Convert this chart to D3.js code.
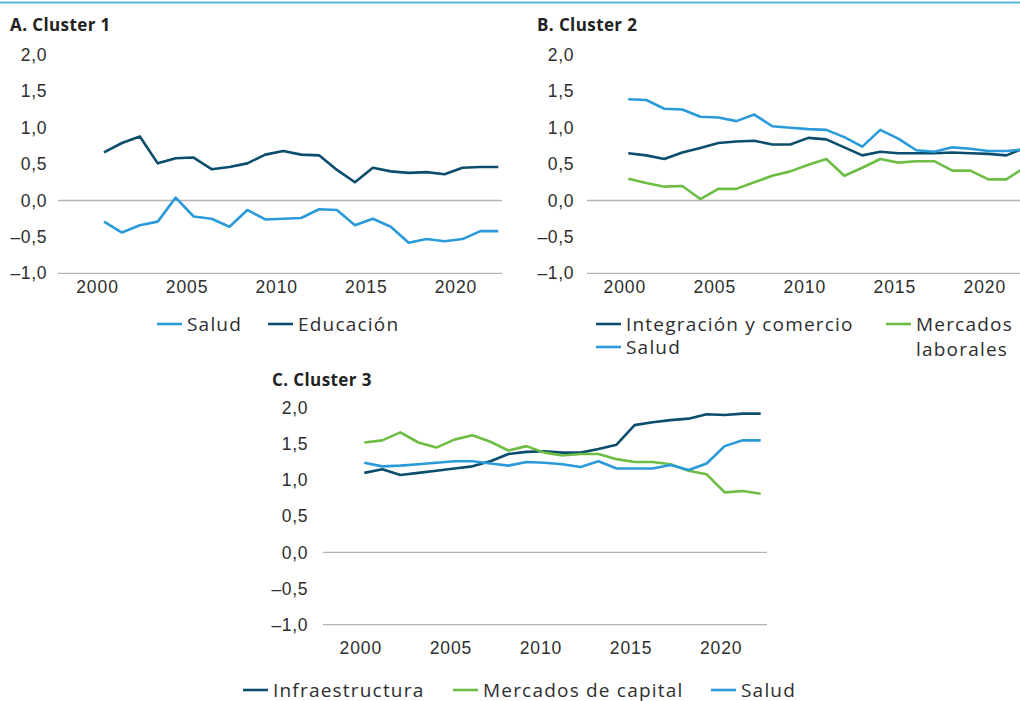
<!DOCTYPE html>
<html>
<head>
<meta charset="utf-8">
<script src="https://cdn.jsdelivr.net/npm/d3@7"></script>
<style>
  body { margin: 0; background: #fff; }
  svg { display: block; font-family: "Open Sans", sans-serif; }
  .tick text { fill: #2e2e2e; }
</style>
</head>
<body>
<svg id="chart" width="1020" height="701"></svg>
<script>
// data
const years = [2000, 2001, 2002, 2003, 2004, 2005, 2006, 2007, 2008, 2009, 2010,
  2011, 2012, 2013, 2014, 2015, 2016, 2017, 2018, 2019, 2020, 2021, 2022];
const yTicks = [-1, -0.5, 0, 0.5, 1, 1.5, 2];
const xTicks = [2000, 2005, 2010, 2015, 2020];

// Cluster 1
const saludA = [-0.29, -0.44, -0.34, -0.29, 0.04, -0.22, -0.25, -0.36, -0.13, -0.26, -0.25,
  -0.24, -0.12, -0.13, -0.34, -0.25, -0.36, -0.58, -0.53, -0.56, -0.53, -0.42, -0.42];
const educacionA = [0.66, 0.79, 0.88, 0.51, 0.58, 0.59, 0.43, 0.46, 0.51, 0.63, 0.68,
  0.63, 0.62, 0.42, 0.25, 0.45, 0.40, 0.38, 0.39, 0.36, 0.45, 0.46, 0.46];

// Cluster 2
const integracionB = [0.65, 0.62, 0.57, 0.66, 0.72, 0.79, 0.81, 0.82, 0.77, 0.77, 0.86,
  0.84, 0.73, 0.62, 0.67, 0.65, 0.65, 0.65, 0.66, 0.65, 0.64, 0.62, 0.72];
const saludB = [1.39, 1.38, 1.26, 1.25, 1.15, 1.14, 1.09, 1.18, 1.02, 1.00, 0.98,
  0.97, 0.87, 0.74, 0.97, 0.85, 0.69, 0.67, 0.73, 0.71, 0.68, 0.68, 0.70];
const laboralesB = [0.30, 0.24, 0.19, 0.20, 0.02, 0.16, 0.16, 0.25, 0.34, 0.40, 0.49,
  0.57, 0.34, 0.45, 0.57, 0.52, 0.54, 0.54, 0.41, 0.41, 0.29, 0.29, 0.45];

// Cluster 3
const infraC = [1.10, 1.15, 1.07, 1.10, 1.13, 1.16, 1.19, 1.26, 1.36, 1.39, 1.40,
  1.38, 1.38, 1.43, 1.49, 1.76, 1.80, 1.83, 1.85, 1.91, 1.90, 1.92, 1.92];
const capitalC = [1.52, 1.55, 1.66, 1.52, 1.45, 1.56, 1.62, 1.53, 1.41, 1.47, 1.38,
  1.34, 1.36, 1.36, 1.29, 1.25, 1.25, 1.22, 1.13, 1.08, 0.83, 0.85, 0.81];
const saludC = [1.24, 1.19, 1.20, 1.22, 1.24, 1.26, 1.26, 1.23, 1.20, 1.25, 1.24,
  1.22, 1.18, 1.26, 1.16, 1.16, 1.16, 1.21, 1.14, 1.23, 1.47, 1.55, 1.55];

const DARK = "#0b4d6d", LIGHT = "#2b9ad8", GREEN = "#6dbd45";

const locale = d3.formatLocale({decimal: ",", thousands: ".", grouping: [3], currency: ["", ""], minus: "\u2013"});
const fmt = locale.format(".1f");

const svg = d3.select("#chart");

// thin rule on top
svg.append("rect").attr("x", 0).attr("y", 1.5).attr("width", 1020).attr("height", 2).attr("fill", "#5bb4e4");

function drawPanel(cfg) {
  const g = svg.append("g");

  const x = d3.scaleLinear().domain([2000, 2022]).range([cfg.x2000, cfg.x2022]);
  const y = d3.scaleLinear().domain([-1, 2]).range([cfg.yMin, cfg.yMax]);

  g.append("text")
    .attr("x", cfg.titleX).attr("y", cfg.titleY)
    .attr("font-size", 17).attr("font-weight", 700).attr("fill", "#222")
    .attr("letter-spacing", 0.4)
    .text(cfg.title);

  // zero line and bottom line
  [0, -1].forEach(v => {
    g.append("line")
      .attr("x1", cfg.axisStart).attr("x2", cfg.axisEnd)
      .attr("y1", y(v)).attr("y2", y(v))
      .attr("stroke", "#b3b3b3").attr("stroke-width", 1.3);
  });

  const yAxis = d3.axisLeft(y).tickValues(yTicks).tickSize(0).tickFormat(fmt);
  const yAxisG = g.append("g")
    .attr("transform", `translate(${cfg.yLabelX},0)`)
    .call(yAxis);
  yAxisG.select(".domain").remove();
  yAxisG.selectAll("text").attr("font-size", 17.5).attr("letter-spacing", 0.6).attr("x", 0);

  const xAxis = d3.axisBottom(x).tickValues(xTicks).tickSize(0).tickFormat(d3.format("d"));
  const xAxisG = g.append("g")
    .attr("transform", `translate(0,${cfg.xLabelY})`)
    .call(xAxis);
  xAxisG.select(".domain").remove();
  xAxisG.selectAll("text").attr("font-size", 17.5).attr("letter-spacing", 0.9)
    .attr("y", 0).attr("dy", "0.35em").attr("dx", cfg.labelShift);

  const line = d3.line()
    .x((d, i) => x(years[i]))
    .y(d => y(d));

  cfg.series.forEach(s => {
    g.append("path")
      .datum(s.values)
      .attr("fill", "none")
      .attr("stroke", s.color)
      .attr("stroke-width", 2.6)
      .attr("stroke-linejoin", "round")
      .attr("d", line);
  });

  // legend
  cfg.legend.forEach(l => {
    g.append("line")
      .attr("x1", l.x).attr("x2", l.x + 25)
      .attr("y1", l.y).attr("y2", l.y)
      .attr("stroke", l.color).attr("stroke-width", 2.6);
    const t = g.append("text")
      .attr("x", l.x + 30).attr("y", l.y)
      .attr("font-size", 19).attr("letter-spacing", 1.2).attr("fill", "#2e2e2e");
    l.label.forEach((s, i) => {
      t.append("tspan").attr("x", l.x + 30).attr("dy", i === 0 ? "0.35em" : "1.35em").text(s);
    });
  });
}

drawPanel({
  title: "A. Cluster 1", titleX: 10, titleY: 31,
  x2000: 104, x2022: 498.3, axisStart: 58, axisEnd: 502,
  yMin: 273.3, yMax: 54.9, yLabelX: 47, xLabelY: 287, labelShift: -7,
  series: [
    {values: saludA, color: LIGHT},
    {values: educacionA, color: DARK}
  ],
  legend: [
    {x: 157, y: 324, color: LIGHT, label: ["Salud"]},
    {x: 268, y: 324, color: DARK, label: ["Educación"]}
  ]
});

drawPanel({
  title: "B. Cluster 2", titleX: 537, titleY: 31,
  x2000: 628.3, x2022: 1024.3, axisStart: 587, axisEnd: 1080,
  yMin: 273.3, yMax: 54.9, yLabelX: 574, xLabelY: 287, labelShift: -4,
  series: [
    {values: laboralesB, color: GREEN},
    {values: integracionB, color: DARK},
    {values: saludB, color: LIGHT}
  ],
  legend: [
    {x: 596, y: 324, color: DARK, label: ["Integración y comercio"]},
    {x: 596, y: 347, color: LIGHT, label: ["Salud"]},
    {x: 886, y: 324, color: GREEN, label: ["Mercados", "laborales"]}
  ]
});

drawPanel({
  title: "C. Cluster 3", titleX: 272, titleY: 386,
  x2000: 364.3, x2022: 760.7, axisStart: 323, axisEnd: 767,
  yMin: 624.7, yMax: 407.8, yLabelX: 308, xLabelY: 648, labelShift: -4,
  series: [
    {values: infraC, color: DARK},
    {values: capitalC, color: GREEN},
    {values: saludC, color: LIGHT}
  ],
  legend: [
    {x: 243, y: 690, color: DARK, label: ["Infraestructura"]},
    {x: 453, y: 690, color: GREEN, label: ["Mercados de capital"]},
    {x: 711, y: 690, color: LIGHT, label: ["Salud"]}
  ]
});
</script>
</body>
</html>
